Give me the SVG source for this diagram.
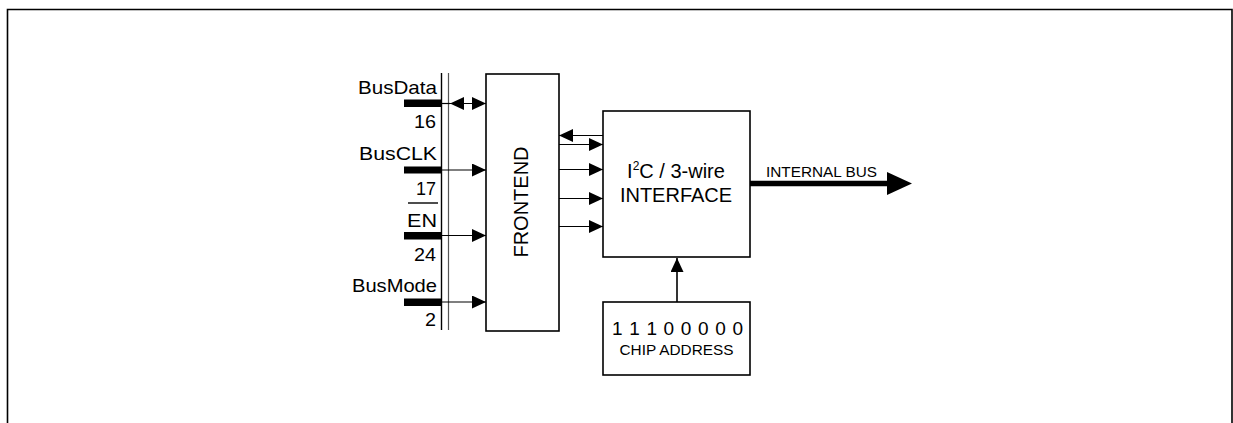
<svg xmlns="http://www.w3.org/2000/svg" width="1233" height="423" viewBox="0 0 1233 423">
<defs>
<style>
.t{font-family:"Liberation Sans",Arial,sans-serif;fill:#000}
.box{fill:#fff;stroke:#000;stroke-width:1.6}
.ln{stroke:#000;stroke-width:1.2;fill:none}
.bar{fill:#000}
</style>
<marker id="ah" viewBox="0 0 14 13" refX="14" refY="6.5" markerWidth="14" markerHeight="13" markerUnits="userSpaceOnUse" orient="auto-start-reverse">
<path d="M0,0 L14,6.5 L0,13 Z" fill="#000"/>
</marker>
</defs>
<rect width="1233" height="423" fill="#fff"/>
<path d="M7.5,430 V9.5 H1232 V430" fill="none" stroke="#000" stroke-width="1.6"/>

<g id="bus-lines">
<line x1="441.5" y1="73" x2="441.5" y2="330" stroke="#000" stroke-width="1.4"/>
<line x1="448.5" y1="73" x2="448.5" y2="330" stroke="#555" stroke-width="1.2"/>
</g>

<g id="pins">
<text class="t" x="437" y="94" font-size="18.5" text-anchor="end" textLength="79" lengthAdjust="spacingAndGlyphs">BusData</text>
<rect class="bar" x="404" y="99.5" width="37" height="7.5"/>
<text class="t" x="436" y="128" font-size="18.5" text-anchor="end" textLength="22" lengthAdjust="spacingAndGlyphs">16</text>
<text class="t" x="437" y="160" font-size="18.5" text-anchor="end" textLength="78" lengthAdjust="spacingAndGlyphs">BusCLK</text>
<rect class="bar" x="404" y="166.5" width="37" height="7"/>
<text class="t" x="436" y="195" font-size="18.5" text-anchor="end" textLength="20" lengthAdjust="spacingAndGlyphs">17</text>
<line x1="408" y1="203" x2="438" y2="203" stroke="#000" stroke-width="1.4"/>
<text class="t" x="437" y="227" font-size="18.5" text-anchor="end" textLength="30" lengthAdjust="spacingAndGlyphs">EN</text>
<rect class="bar" x="404" y="232" width="37" height="7.5"/>
<text class="t" x="436" y="260.5" font-size="18.5" text-anchor="end" textLength="22" lengthAdjust="spacingAndGlyphs">24</text>
<text class="t" x="437" y="291.5" font-size="18.5" text-anchor="end" textLength="85" lengthAdjust="spacingAndGlyphs">BusMode</text>
<rect class="bar" x="404" y="298.5" width="37" height="7.5"/>
<text class="t" x="436" y="326" font-size="18.5" text-anchor="end" textLength="11" lengthAdjust="spacingAndGlyphs">2</text>
</g>

<g id="frontend">
<rect class="box" x="486" y="74" width="73" height="257"/>
<text class="t" font-size="20" text-anchor="middle" transform="translate(528,202) rotate(-90)">FRONTEND</text>
</g>

<g id="interface">
<rect class="box" x="603" y="111" width="147" height="146"/>
<text class="t" x="676" y="178" font-size="20" text-anchor="middle">I<tspan font-size="12" dy="-8">2</tspan><tspan dy="8">C / 3-wire</tspan></text>
<text class="t" x="676" y="202" font-size="20" text-anchor="middle">INTERFACE</text>
</g>

<g id="chip-address">
<rect class="box" x="603" y="302" width="147" height="73"/>
<text class="t" x="677.5" y="334.5" font-size="19" text-anchor="middle" textLength="131" lengthAdjust="spacing">1 1 1 0 0 0 0 0</text>
<text class="t" x="676.5" y="355" font-size="15" text-anchor="middle" textLength="114" lengthAdjust="spacingAndGlyphs">CHIP ADDRESS</text>
</g>

<g id="connectors">
<line class="ln" x1="450" y1="103.5" x2="486" y2="103.5" marker-start="url(#ah)" marker-end="url(#ah)"/>
<line class="ln" x1="441.5" y1="103.5" x2="450" y2="103.5"/>
<line class="ln" x1="441.5" y1="170" x2="486" y2="170" marker-end="url(#ah)"/>
<line class="ln" x1="441.5" y1="235.5" x2="486" y2="235.5" marker-end="url(#ah)"/>
<line class="ln" x1="441.5" y1="302" x2="486" y2="302" marker-end="url(#ah)"/>
<line class="ln" x1="603" y1="135.5" x2="559" y2="135.5" marker-end="url(#ah)"/>
<line class="ln" x1="559" y1="144.5" x2="603" y2="144.5" marker-end="url(#ah)"/>
<line class="ln" x1="559" y1="169.5" x2="603" y2="169.5" marker-end="url(#ah)"/>
<line class="ln" x1="559" y1="198.5" x2="603" y2="198.5" marker-end="url(#ah)"/>
<line class="ln" x1="559" y1="226.5" x2="603" y2="226.5" marker-end="url(#ah)"/>
<line x1="677" y1="302" x2="677" y2="258" stroke="#000" stroke-width="1.6" marker-end="url(#ah)"/>
<line x1="750" y1="183.5" x2="888" y2="183.5" stroke="#000" stroke-width="5.5"/>
<path d="M887,172 L912,183.5 L887,195 Z" fill="#000"/>
<text class="t" x="766" y="176.5" font-size="15" textLength="111" lengthAdjust="spacingAndGlyphs">INTERNAL BUS</text>
</g>
</svg>
